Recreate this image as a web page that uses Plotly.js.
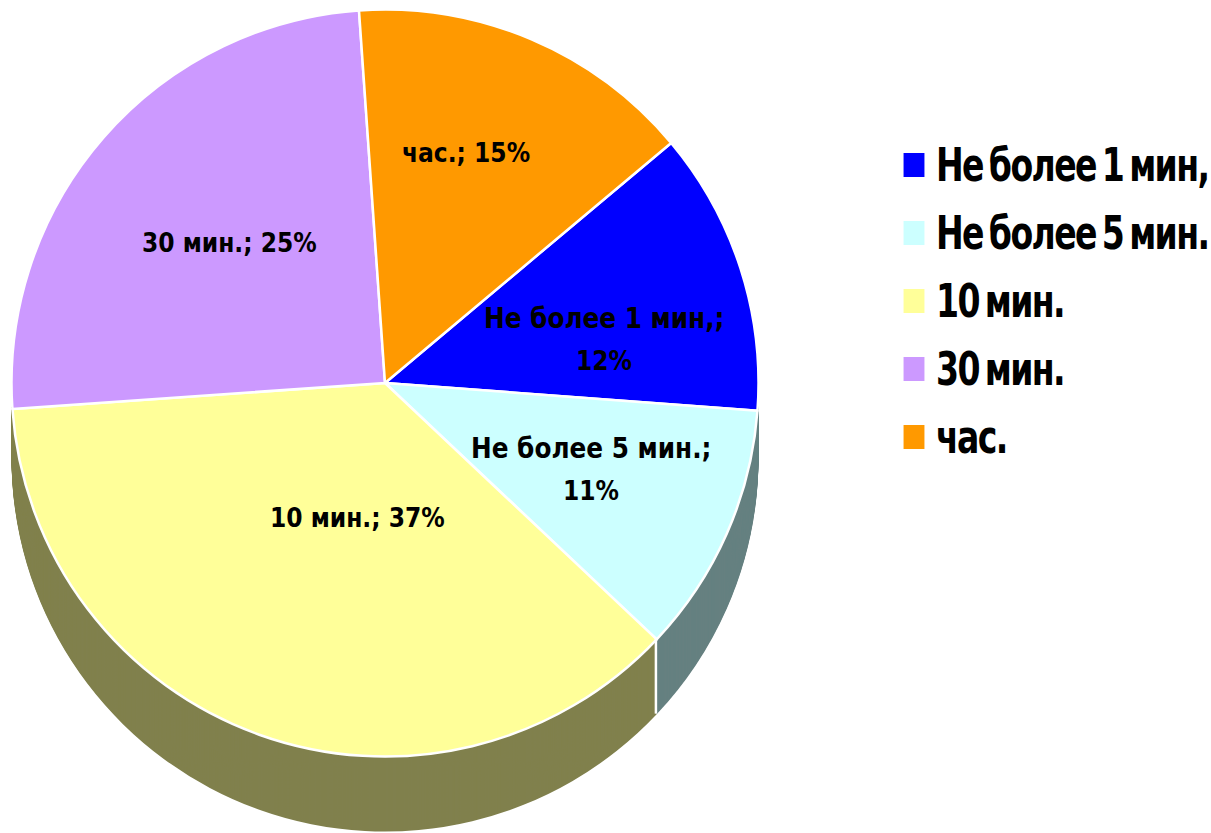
<!DOCTYPE html>
<html><head><meta charset="utf-8">
<script src="https://cdn.plot.ly/plotly-3.0.1.min.js"></script>
<style>
html,body{margin:0;padding:0;background:#fff}
.legendtext{letter-spacing:-2px;word-spacing:-5px;font-size:46px !important;transform-box:fill-box;transform-origin:left center;transform:translate(2px,-4px) scaleX(.8)}
path.legendpie{transform:translate(20px,0) scale(2.2,2.55)}
</style></head><body><div id="c" style="width:1211px;height:833px"></div>
<script>
var categories=['Не более 1 мин,','Не более 5 мин.','10 мин.','30 мин.','час.'];
var shares=[12.3,10.85,36.86,25,15];
var faceColors=['#0000ff','#ccffff','#ffff99','#cc99ff','#ff9900'];
var wallColors=['#668080','#668080','#80804d','#80804d','#80804d'];
var W=1211,H=833,cx=385,cy=383,r=373.5,depth=75,rot=50;
function px(x){return x/W}
function py(y){return 1-y/H}
function pie(off,colors,face){
  return {type:'pie',labels:categories,values:shares,sort:false,direction:'clockwise',rotation:rot,
    textinfo:'none',hoverinfo:'skip',showlegend:face,
    domain:{x:[px(cx-r),px(cx+r)],y:[py(cy+r+off),py(cy-r+off)]},
    marker:{colors:colors,line:{color:'#ffffff',width:face?2.5:0}}};
}
var data=[];
for(var d=depth;d>=1;d--)data.push(pie(d,wallColors,false));
data.push(pie(0,faceColors,true));
var labelTexts=['Не более 1 мин,;','12%','Не более 5 мин.;','11%','10 мин.; 37%','30 мин.; 25%','час.; 15%'];
var labelX=[604,604,591,591,357,229,466];
var labelY=[318,361,448,491,518,243,153];
var labelSizes=[27.5,26,27.5,26,26,26,26];
var annotations=labelTexts.map(function(t,i){
  return {text:'<b>'+t+'</b>',x:px(labelX[i]),y:py(labelY[i]),xref:'paper',yref:'paper',showarrow:false,
    xanchor:'center',yanchor:'middle',align:'center',
    font:{family:'"DejaVu Sans Condensed","DejaVu Sans",sans-serif',size:labelSizes[i],color:'#000'}};
});
var a=(rot+(shares[0]+shares[1])*3.6)*Math.PI/180;
var ex=cx+(r-1)*Math.sin(a),ey=cy-(r-1)*Math.cos(a);
var layout={width:W,height:H,margin:{l:0,r:0,t:0,b:0,autoexpand:false},paper_bgcolor:'#fff',
  showlegend:true,
  legend:{x:px(894),y:py(126),xanchor:'left',yanchor:'top',bgcolor:'rgba(0,0,0,0)',traceorder:'normal',
    font:{family:'"DejaVu Sans Condensed",sans-serif',size:50,color:'#000',weight:700}},
  annotations:annotations,
  shapes:[{type:'line',xref:'paper',yref:'paper',x0:px(ex),x1:px(ex),y0:py(ey),y1:py(ey+depth),line:{color:'#fff',width:2.5}}]};
Plotly.newPlot('c',data,layout,{displayModeBar:false,staticPlot:true});
</script></body></html>
